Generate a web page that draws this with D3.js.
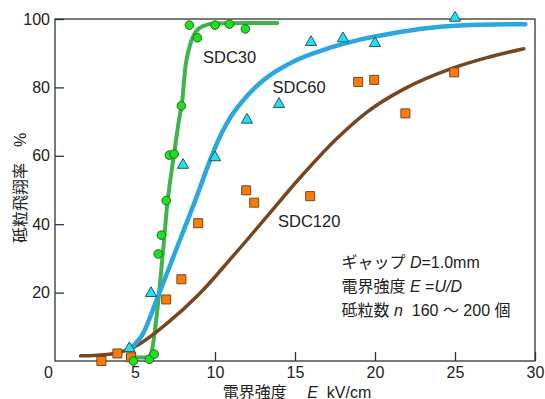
<!DOCTYPE html>
<html>
<head>
<meta charset="utf-8">
<script src="https://cdn.jsdelivr.net/npm/d3@7"></script>
<style>
  body { margin: 0; background: #fff; }
  svg text { font-family: "Liberation Sans", Arial, "Noto Sans CJK JP", sans-serif; fill: #222; white-space: pre; }
  .jp { font-family: "Liberation Sans", "Noto Sans CJK JP", sans-serif; }
</style>
</head>
<body>
<div id="chart"></div>
<script>
// measured points, [E kV/cm, rate %]
var sdc30 = [[4.9,0],[5.9,0.5],[6.2,2],[6.45,31.3],[6.65,36.8],[6.95,46.9],[7.15,60.2],[7.45,60.5],[7.9,74.6],[8.4,98.2],[8.9,94.5],[10,98.2],[10.9,98.5],[11.9,97.1]];
var sdc60 = [[4.65,3.7],[6,19.8],[8,57.3],[10,59.5],[12,70.5],[14,75.1],[16,93.2],[18,94.3],[20,92.9],[25,100.3]];
var sdc120 = [[2.9,0],[3.9,2.2],[4.75,1.1],[6.95,18],[7.9,23.9],[8.95,40.3],[11.95,49.9],[12.45,46.3],[15.95,48.2],[18.95,81.6],[19.95,82.2],[21.9,72.4],[24.95,84.4]];

// fitted curves
var fit30 = [[5.0,1],[5.5,1],[5.85,1.2],[6.05,3],[6.35,13],[6.75,32],[7.0,45],[7.45,60.8],[7.75,70.5],[7.95,76],[8.15,86],[8.45,92.5],[8.8,96.3],[9.3,98],[10,98.7],[12,98.8],[13.9,98.8]];
var fit60 = [[4.8,4],[5.5,8],[6.35,17.8],[7.4,30.5],[8.85,48],[9.8,60],[10.4,66.5],[11,71.5],[12,77.5],[13,82],[15.1,88],[17.2,91.6],[19,93.9],[21.2,95.9],[23.2,97.3],[25.3,98.1],[29.4,98.5]];
var fit120 = [[1.6,1.5],[3.4,2],[4.9,4],[7,11],[9,19.5],[11,30],[13.2,42],[15.2,53],[17.6,65],[19.5,72.8],[21.8,79.5],[24.9,85.7],[27,88.7],[29.3,91.3]];

var xTicks = [0,5,10,15,20,25,30];
var yTicks = [20,40,60,80,100];

var W = 545, H = 399;
var margin = { top: 19, right: 10, bottom: 38, left: 55 };
var width = W - margin.left - margin.right;   // 480
var height = H - margin.top - margin.bottom;  // 342

var svg = d3.select("#chart").append("svg")
  .attr("width", W)
  .attr("height", H);

var g = svg.append("g")
  .attr("transform", "translate(" + margin.left + "," + margin.top + ")");

var x = d3.scaleLinear().domain([0, 30]).range([0, width]);
var y = d3.scaleLinear().domain([0, 100]).range([height, 0]);

var line = d3.line()
  .x(function (d) { return x(d[0]); })
  .y(function (d) { return y(d[1]); })
  .curve(d3.curveMonotoneX);

// axes with inward ticks
var xAxis = g.append("g")
  .attr("transform", "translate(0," + height + ")")
  .call(d3.axisBottom(x).tickValues(xTicks).tickSizeInner(-9).tickSizeOuter(0).tickPadding(6));
var yAxis = g.append("g")
  .call(d3.axisLeft(y).tickValues(yTicks).tickSizeInner(-9).tickSizeOuter(0).tickPadding(5));

[xAxis, yAxis].forEach(function (a) {
  a.select(".domain").remove();
  a.selectAll("line").attr("stroke", "#333").attr("stroke-width", 1.3);
  a.selectAll("text").style("font-size", "16px").attr("fill", "#222");
});
xAxis.selectAll(".tick").filter(function (d) { return d == 0; }).select("line").remove();
xAxis.selectAll(".tick").filter(function (d) { return d == 0; }).select("text").attr("dx", -7);

// frame
g.append("rect")
  .attr("x", x(0)).attr("y", y(100))
  .attr("width", x(30) - x(0)).attr("height", y(0) - y(100))
  .attr("fill", "none").attr("stroke", "#333").attr("stroke-width", 1.3);

// curves
g.append("path").datum(fit30).attr("d", line)
  .attr("fill", "none").attr("stroke", "#3fb44b").attr("stroke-width", 4).attr("stroke-linecap", "round");
g.append("path").datum(fit120).attr("d", line)
  .attr("fill", "none").attr("stroke", "#774520").attr("stroke-width", 3.5).attr("stroke-linecap", "round");
g.append("path").datum(fit60).attr("d", line)
  .attr("fill", "none").attr("stroke", "#2aa7df").attr("stroke-width", 4.5).attr("stroke-linecap", "round");

// markers
g.selectAll(".sq").data(sdc120).enter().append("path")
  .attr("class", "sq")
  .attr("d", d3.symbol(d3.symbolSquare, 81))
  .attr("transform", function (d) { return "translate(" + x(d[0]) + "," + y(d[1]) + ")"; })
  .attr("fill", "#ff7b00").attr("stroke", "#6e4a2a").attr("stroke-width", 1);

g.selectAll(".tri").data(sdc60).enter().append("path")
  .attr("class", "tri")
  .attr("d", d3.symbol(d3.symbolTriangle, 55))
  .attr("transform", function (d) { return "translate(" + x(d[0]) + "," + y(d[1]) + ")"; })
  .attr("fill", "#1ee3ee").attr("stroke", "#2b5563").attr("stroke-width", 1);

g.selectAll(".dot").data(sdc30).enter().append("circle")
  .attr("class", "dot")
  .attr("cx", function (d) { return x(d[0]); })
  .attr("cy", function (d) { return y(d[1]); })
  .attr("r", 4.3)
  .attr("fill", "#1fe01f").attr("stroke", "#1d6e1d").attr("stroke-width", 1);

// series labels
svg.append("text").attr("x", 203).attr("y", 62.5).style("font-size", "16.5px").text("SDC30");
svg.append("text").attr("x", 272.5).attr("y", 92.5).style("font-size", "16.5px").text("SDC60");
svg.append("text").attr("x", 278).attr("y", 226.5).style("font-size", "16.5px").text("SDC120");

// notes
var notes = svg.append("g").attr("class", "jp").style("font-size", "16px");
var t1 = notes.append("text").attr("x", 341.5).attr("y", 268);
t1.append("tspan").text("ギャップ ");
t1.append("tspan").style("font-style", "italic").text("D");
t1.append("tspan").text("=1.0mm");
var t2 = notes.append("text").attr("x", 341.5).attr("y", 291.5);
t2.append("tspan").text("電界強度 ");
t2.append("tspan").style("font-style", "italic").text("E");
t2.append("tspan").text(" =");
t2.append("tspan").style("font-style", "italic").text("U/D");
var t3 = notes.append("text").attr("x", 341.5).attr("y", 315.5);
t3.append("tspan").text("砥粒数 ");
t3.append("tspan").style("font-style", "italic").text("n");
t3.append("tspan").text("  160 〜 200 個");

// axis titles
var xt = svg.append("text").attr("class", "jp")
  .attr("x", 297).attr("y", 397.5).attr("text-anchor", "middle").style("font-size", "16px");
xt.append("tspan").text("電界強度　 ");
xt.append("tspan").style("font-style", "italic").text("E");
xt.append("tspan").text("  kV/cm");

svg.append("text").attr("class", "jp")
  .attr("transform", "translate(26,188) rotate(-90)")
  .attr("text-anchor", "middle").style("font-size", "16px")
  .text("砥粒飛翔率　%");
</script>
</body>
</html>
